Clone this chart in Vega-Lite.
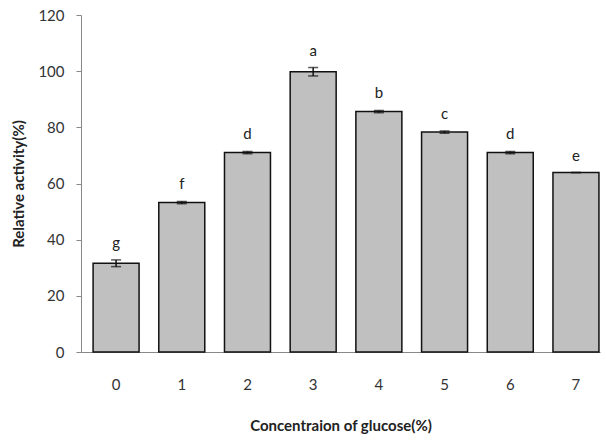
{
  "$schema": "https://vega.github.io/schema/vega-lite/v6.json",
  "autosize": "none",
  "width": 519,
  "height": 337,
  "padding": {"left": 81, "top": 15, "right": 6, "bottom": 88},
  "background": "white",
  "config": {
    "view": {"stroke": null},
    "font": "Lato"
  },
  "data": {
    "values": [
      {"conc": "0", "activity": 31.6, "err": 1.2, "letter": "g"},
      {"conc": "1", "activity": 53.2, "err": 0.4, "letter": "f"},
      {"conc": "2", "activity": 71.0, "err": 0.4, "letter": "d"},
      {"conc": "3", "activity": 99.8, "err": 1.5, "letter": "a"},
      {"conc": "4", "activity": 85.6, "err": 0.4, "letter": "b"},
      {"conc": "5", "activity": 78.3, "err": 0.4, "letter": "c"},
      {"conc": "6", "activity": 71.0, "err": 0.4, "letter": "d"},
      {"conc": "7", "activity": 63.9, "err": 0.0, "letter": "e"}
    ]
  },
  "transform": [
    {"calculate": "datum.activity - datum.err", "as": "lo"},
    {"calculate": "datum.activity + datum.err", "as": "hi"}
  ],
  "encoding": {
    "x": {
      "field": "conc",
      "type": "ordinal",
      "sort": null,
      "scale": {"paddingInner": 0.3, "paddingOuter": 0.1, "align": 0.92},
      "axis": {
        "title": "Concentraion of glucose(%)",
        "titleFont": "Lato",
        "titleFontSize": 15,
        "titleFontWeight": "bold",
        "titleColor": "#222222",
        "titleY": 73,
        "titleBaseline": "middle",
        "labelAngle": 0,
        "labelFont": "Lato",
        "labelFontSize": 15,
        "labelColor": "#333333",
        "labelPadding": 25,
        "ticks": false,
        "domainColor": "#888888",
        "domainWidth": 1
      }
    }
  },
  "layer": [
    {
      "mark": {"type": "bar", "fill": "#C0C0C0", "stroke": "#111111", "strokeWidth": 1.5},
      "encoding": {
        "y": {
          "field": "activity",
          "type": "quantitative",
          "scale": {"domain": [0, 120]},
          "axis": {
            "title": "Relative activity(%)",
            "titleFont": "Lato",
            "titleFontSize": 15,
            "titleFontWeight": "bold",
            "titleColor": "#222222",
            "titleX": -63,
            "titleBaseline": "middle",
            "values": [0, 20, 40, 60, 80, 100, 120],
            "labelFont": "Lato",
            "labelFontSize": 15,
            "labelColor": "#333333",
            "labelPadding": 12,
            "tickSize": 5,
            "tickColor": "#888888",
            "domainColor": "#888888",
            "grid": false
          }
        }
      }
    },
    {
      "mark": {"type": "rule", "color": "#111111", "strokeWidth": 1.5},
      "encoding": {
        "y": {"field": "lo", "type": "quantitative"},
        "y2": {"field": "hi"}
      }
    },
    {
      "mark": {"type": "tick", "color": "#111111", "thickness": 1.5, "size": 10},
      "encoding": {"y": {"field": "lo", "type": "quantitative"}}
    },
    {
      "mark": {"type": "tick", "color": "#111111", "thickness": 1.5, "size": 10},
      "encoding": {"y": {"field": "hi", "type": "quantitative"}}
    },
    {
      "mark": {"type": "text", "baseline": "bottom", "dy": -9, "font": "Lato", "fontSize": 15, "color": "#222222"},
      "encoding": {
        "y": {"field": "hi", "type": "quantitative"},
        "text": {"field": "letter"}
      }
    }
  ]
}
